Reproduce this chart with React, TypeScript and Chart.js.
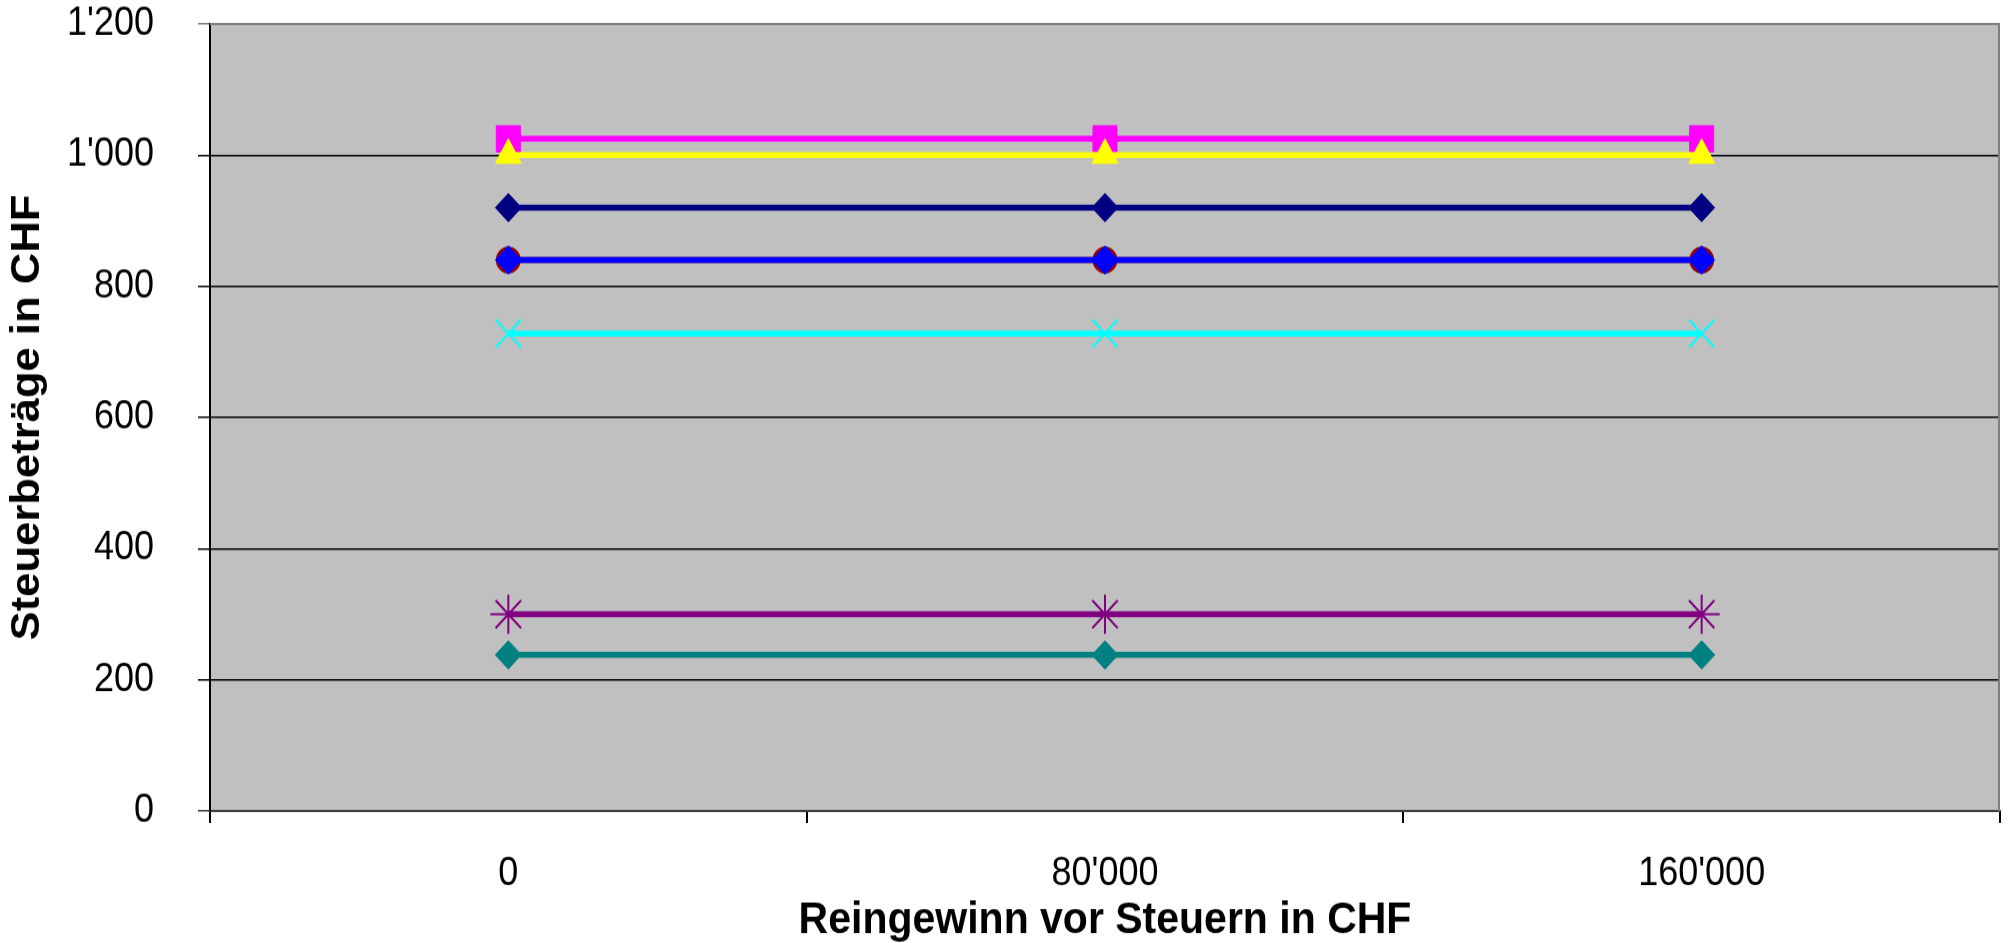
import React, { useEffect, useRef } from "react";
import { Chart, registerables } from "chart.js";

Chart.register(...registerables);

const categories: string[] = ["0", "80'000", "160'000"];

const seriesNavy: number[] = [920, 920, 920];
const seriesMagenta: number[] = [1025, 1025, 1025];
const seriesYellow: number[] = [1000, 1000, 1000];
const seriesCyan: number[] = [728, 728, 728];
const seriesPurple: number[] = [300, 300, 300];
const seriesDarkRed: number[] = [840, 840, 840];
const seriesTeal: number[] = [238, 238, 238];
const seriesBlue: number[] = [840, 840, 840];

const yTicks: number[] = [0, 200, 400, 600, 800, 1000, 1200];

const FONT = "'Liberation Sans', Arial, sans-serif";
const STRETCH = 1.09;
const W = 2008;
const H = Math.round(943 / STRETCH);

function fmt(v: number): string {
  const s = String(Math.round(v));
  return s.replace(/\B(?=(\d{3})+(?!\d))/g, "'");
}

const bgPlugin = {
  id: "plotBg",
  beforeDraw(chart: any) {
    const { ctx, chartArea } = chart;
    if (!chartArea) return;
    ctx.save();
    ctx.fillStyle = "#C0C0C0";
    ctx.fillRect(chartArea.left, chartArea.top, chartArea.right - chartArea.left, chartArea.bottom - chartArea.top);
    ctx.restore();
  },
  beforeDatasetsDraw(chart: any) {
    const { ctx, chartArea } = chart;
    ctx.save();
    ctx.strokeStyle = "#808080";
    ctx.lineWidth = 2;
    ctx.beginPath();
    ctx.moveTo(chartArea.left, chartArea.top);
    ctx.lineTo(chartArea.right - 1, chartArea.top);
    ctx.lineTo(chartArea.right - 1, chartArea.bottom);
    ctx.stroke();
    ctx.restore();
  },
};

function ds(label: string, data: number[], color: string, style: string, radius: number, fill: string, pbw: number) {
  return {
    label,
    data,
    borderColor: color,
    backgroundColor: fill,
    borderWidth: 5.5,
    pointStyle: style,
    pointRadius: radius,
    pointBorderColor: color,
    pointBackgroundColor: fill,
    pointBorderWidth: pbw,
    tension: 0,
  };
}

export default function App() {
  const ref = useRef<HTMLCanvasElement | null>(null);

  useEffect(() => {
    if (!ref.current) return;
    const gridColor = (c: any) => {
      const v = c.tick ? c.tick.value : null;
      if (v === 0) return "#404040";
      if (v === 1200) return "#808080";
      return "#000000";
    };
    const chart = new Chart(ref.current, {
      type: "line",
      data: {
        labels: categories,
        datasets: [
          ds("Blue", seriesBlue, "#0000FF", "rectRot", 13, "#0000FF", 1),
          ds("Yellow", seriesYellow, "#FFFF00", "triangle", 15, "#FFFF00", 1),
          ds("Magenta", seriesMagenta, "#FF00FF", "rect", 17, "#FF00FF", 1),
          ds("Navy", seriesNavy, "#000080", "rectRot", 13, "#000080", 1),
          ds("DarkRed", seriesDarkRed, "#800000", "circle", 12, "#A00000", 1),
          ds("Cyan", seriesCyan, "#00FFFF", "crossRot", 18, "#00FFFF", 2),
          ds("Purple", seriesPurple, "#800080", "star", 18, "#800080", 2),
          ds("Teal", seriesTeal, "#008080", "rectRot", 13, "#008080", 1),
        ] as any,
      },
      options: {
        animation: false,
        responsive: false,
        devicePixelRatio: 1,
        layout: { autoPadding: false, padding: { top: 22, right: 8, left: 0, bottom: 0 } },
        plugins: {
          legend: { display: false },
          tooltip: { enabled: false },
        },
        scales: {
          x: {
            type: "category",
            offset: true,
            grid: {
              offset: true,
              drawOnChartArea: false,
              drawTicks: true,
              tickLength: 11,
              color: "#000000",
              lineWidth: 2,
            },
            border: { display: true, color: "#404040", width: 2 },
            ticks: {
              color: "#000000",
              padding: 25,
              font: { family: FONT, size: 36 },
              maxRotation: 0,
              autoSkip: false,
            },
            title: {
              display: true,
              text: "Reingewinn vor Steuern in CHF",
              color: "#000000",
              font: { family: FONT, size: 41, weight: "bold", lineHeight: 1.0 },
              padding: { top: 0, bottom: 0 },
            },
            afterFit(scale: any) {
              scale.height = 121;
              scale.paddingLeft = 0;
              scale.paddingRight = 0;
            },
          },
          y: {
            min: 0,
            max: 1200,
            grid: {
              color: gridColor,
              tickColor: gridColor,
              lineWidth: 1.5,
              tickLength: 12,
            },
            border: { display: true, color: "#000000", width: 2 },
            afterBuildTicks(scale: any) {
              scale.ticks = yTicks.map((v) => ({ value: v }));
            },
            ticks: {
              color: "#000000",
              padding: 44,
              font: { family: FONT, size: 36 },
              callback: (v: any) => fmt(Number(v)),
            },
            title: {
              display: true,
              text: "Steuerbeträge in CHF",
              color: "#000000",
              font: { family: FONT, size: 40, weight: "bold", lineHeight: 1.0 },
              padding: { top: 8, bottom: 0 },
            },
            afterFit(scale: any) {
              scale.width = 210;
              scale.paddingTop = 0;
              scale.paddingBottom = 0;
            },
          },
        },
      } as any,
      plugins: [bgPlugin],
    });
    return () => chart.destroy();
  }, []);

  return (
    <div
      style={{
        position: "absolute",
        left: 0,
        top: 0,
        width: W,
        height: H,
        transform: `scaleY(${STRETCH})`,
        transformOrigin: "0 0",
      }}
    >
      <canvas ref={ref} width={W} height={H} style={{ width: W, height: H, display: "block" }} />
    </div>
  );
}
